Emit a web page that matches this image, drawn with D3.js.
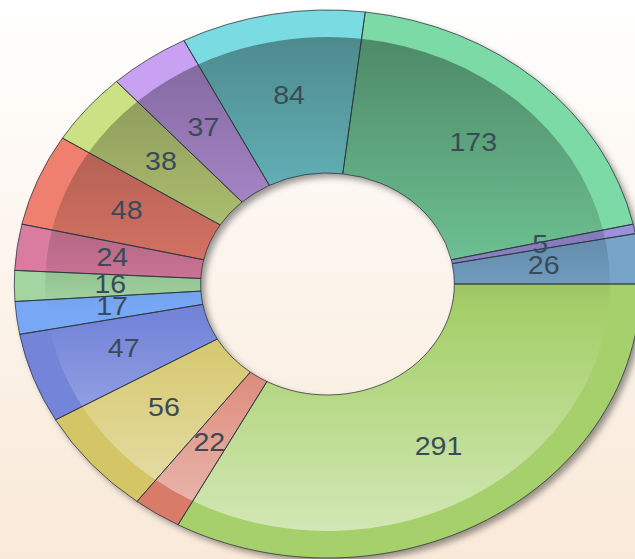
<!DOCTYPE html>
<html><head><meta charset="utf-8">
<script src="https://cdn.jsdelivr.net/npm/d3@7"></script>
<style>html,body{margin:0;padding:0;overflow:hidden;background:#fff}</style>
</head><body>
<svg id="chart" width="635" height="559"></svg>
<script>
// Data (clockwise from 3 o'clock)
const values = [291, 22, 56, 47, 17, 16, 24, 48, 38, 37, 84, 173, 5, 26];
const labels = values.map(String);
const palette = ["#a6d06b","#d87b69","#d4c567","#7384d9","#78a8f5","#a2d5a0","#d97ca0",
                 "#ef8070","#cce183","#c9a1f2","#7adbe2","#7bdaa5","#9b91da","#77a5c9"];

const W = 635, H = 559;
const cx = 327.5, cy = 284, sx = 1.143;
const R = 274, r0 = 111, rIn = 247, rLab = 190;

const svg = d3.select("#chart");
const defs = svg.append("defs");

const bg = defs.append("linearGradient").attr("id","bg").attr("x1",0).attr("y1",0).attr("x2",0).attr("y2",1);
bg.append("stop").attr("offset",0).attr("stop-color","#ffffff");
bg.append("stop").attr("offset",1).attr("stop-color","#f9e9d8");
svg.append("rect").attr("width",W).attr("height",H).attr("fill","url(#bg)");

const ov = defs.append("linearGradient").attr("id","ov").attr("gradientUnits","userSpaceOnUse")
  .attr("x1",0).attr("y1",-R).attr("x2",0).attr("y2",R);
[[0,"#000",0.40],[0.44,"#000",0.13],[0.55,"#000",0.0],[0.56,"#fff",0.0],[0.95,"#fff",0.5],[1,"#fff",0.5]]
  .forEach(([o,c,a]) => ov.append("stop").attr("offset",o).attr("stop-color",c).attr("stop-opacity",a));

const blur = defs.append("filter").attr("id","sh").attr("x","-20%").attr("y","-20%").attr("width","140%").attr("height","140%");
blur.append("feGaussianBlur").attr("stdDeviation",3);

const g = svg.append("g").attr("transform",`translate(${cx},${cy}) scale(${sx},1)`);

const pie = d3.pie().sort(null).startAngle(Math.PI/2).endAngle(Math.PI/2 + 2*Math.PI);
const arcs = pie(values);
const outer = d3.arc().innerRadius(r0).outerRadius(R);
const inner = d3.arc().innerRadius(r0).outerRadius(rIn);
const labArc = d3.arc().innerRadius(rLab).outerRadius(rLab);

// shadow
g.append("path")
  .attr("d", d3.arc().innerRadius(r0).outerRadius(R).startAngle(0).endAngle(2*Math.PI)())
  .attr("transform","translate(3.5,4)")
  .attr("fill","rgba(0,0,0,0.4)")
  .attr("filter","url(#sh)");

g.selectAll("path.slice").data(arcs).join("path").attr("class","slice")
  .attr("d", outer).attr("fill", (d,i) => palette[i]);

g.selectAll("path.ov").data(arcs).join("path").attr("class","ov")
  .attr("d", inner).attr("fill","url(#ov)");

g.selectAll("path.edge").data(arcs).join("path").attr("class","edge")
  .attr("d", outer).attr("fill","none")
  .attr("stroke","rgba(40,50,60,0.75)").attr("stroke-width",1).attr("vector-effect","non-scaling-stroke");

g.selectAll("text.lab").data(arcs).join("text").attr("class","lab")
  .attr("transform", d => `translate(${labArc.centroid(d)})`)
  .attr("text-anchor","middle").attr("dy","0.3em")
  .attr("font-family","Arial, 'Liberation Sans', sans-serif").attr("font-size",25)
  .attr("fill","#3a4b57")
  .text((d,i) => labels[i]);
</script>
</body></html>
